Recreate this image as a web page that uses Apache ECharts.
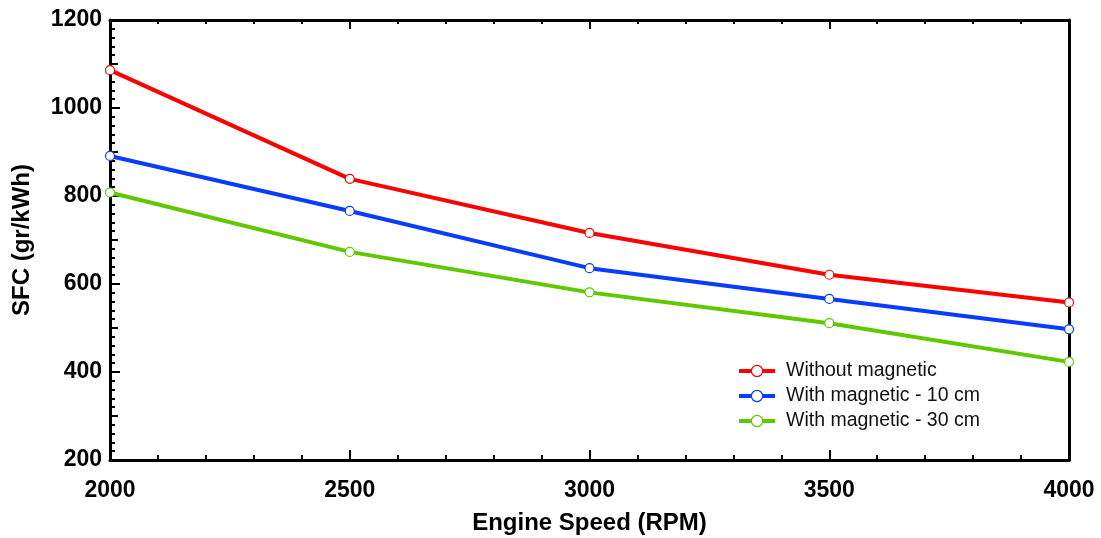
<!DOCTYPE html>
<html>
<head>
<meta charset="utf-8">
<script src="https://cdn.jsdelivr.net/npm/echarts@6/dist/echarts.min.js"></script>
<style>
  html, body { margin: 0; padding: 0; background: #fff; }
  #chart { width: 1101px; height: 538px; }
</style>
</head>
<body>
<div id="chart"></div>
<script>
// engine speed (RPM)
const rpm = [2000, 2500, 3000, 3500, 4000]
// SFC (gr/kWh)
const withoutMagnetic = [1086, 839, 716, 621, 558]
const magnetic10 = [891, 766, 636, 566, 497]
const magnetic30 = [808, 673, 581, 511, 423]

const seriesNames = ['Without magnetic', 'With magnetic - 10 cm', 'With magnetic - 30 cm']
const colors = ['#ff0000', '#0a3cff', '#5fc800']

const font = 'Liberation Sans, Arial, sans-serif'

const makeSeries = (name, values, color) => ({
  name: name,
  type: 'line',
  xAxisIndex: 0,
  yAxisIndex: 0,
  data: rpm.map((r, i) => [r, values[i]]),
  symbol: 'circle',
  symbolSize: 9,
  lineStyle: { color: color, width: 4 },
  itemStyle: { color: '#fff', borderColor: color, borderWidth: 1.2 },
  z: 3
})

const chart = echarts.init(document.getElementById('chart'))

const option = {
  animation: false,
  grid: { left: 110, right: 32, top: 20, bottom: 78, outerBoundsMode: 'none', containLabel: false },
  legend: {
    left: 737,
    top: 361,
    padding: 0,
    orient: 'vertical',
    itemWidth: 36,
    itemHeight: 14,
    itemGap: 5,
    textStyle: { fontFamily: font, fontSize: 19.5, lineHeight: 19, color: '#111', padding: [0, 0, 0, 6] },
    data: seriesNames.map((n, i) => ({
      name: n,
      itemStyle: { color: '#fff', borderColor: colors[i], borderWidth: 1.2 },
      lineStyle: { color: colors[i], width: 4 }
    }))
  },
  xAxis: [
    {
      type: 'value',
      min: 2000, max: 4000, interval: 500,
      name: 'Engine Speed (RPM)',
      nameLocation: 'middle',
      nameGap: 51,
      nameTextStyle: { fontFamily: font, fontWeight: 'bold', fontSize: 24, color: '#000' },
      axisLine: { onZero: false, lineStyle: { color: '#000', width: 3 } },
      axisTick: { inside: true, length: 10, lineStyle: { color: '#000', width: 2 } },
      minorTick: { show: true, splitNumber: 5, length: 5, lineStyle: { color: '#000', width: 2 } },
      axisLabel: { margin: 19, fontFamily: font, fontWeight: 'bold', fontSize: 23, color: '#000', formatter: v => String(v) },
      splitLine: { show: false }
    },
    {
      type: 'value',
      position: 'top',
      min: 2000, max: 4000, interval: 500,
      axisLine: { onZero: false, lineStyle: { color: '#000', width: 3 } },
      axisTick: { inside: true, length: 9, lineStyle: { color: '#000', width: 2 } },
      minorTick: { show: true, splitNumber: 5, length: 4, lineStyle: { color: '#000', width: 2 } },
      axisLabel: { show: false },
      splitLine: { show: false }
    }
  ],
  yAxis: [
    {
      type: 'value',
      min: 200, max: 1200, interval: 200,
      name: 'SFC (gr/kWh)',
      nameLocation: 'middle',
      nameGap: 76,
      nameTextStyle: { fontFamily: font, fontWeight: 'bold', fontSize: 24, color: '#000' },
      axisLine: { onZero: false, lineStyle: { color: '#000', width: 3 } },
      axisTick: { inside: true, length: 10, lineStyle: { color: '#000', width: 2 } },
      minorTick: { show: true, splitNumber: 10, length: 5, lineStyle: { color: '#000', width: 2 } },
      axisLabel: { margin: 8, fontFamily: font, fontWeight: 'bold', fontSize: 23, color: '#000', formatter: v => String(v) },
      splitLine: { show: false }
    },
    {
      // mid ticks at every 100
      type: 'value',
      position: 'left',
      min: 200, max: 1200, interval: 100,
      axisLine: { show: false },
      axisTick: { inside: true, length: 8, lineStyle: { color: '#000', width: 2 } },
      axisLabel: { show: false },
      splitLine: { show: false }
    },
    {
      type: 'value',
      position: 'right',
      min: 200, max: 1200,
      axisLine: { show: true, onZero: false, lineStyle: { color: '#000', width: 3 } },
      axisTick: { show: false },
      axisLabel: { show: false },
      splitLine: { show: false }
    }
  ],
  series: [
    makeSeries(seriesNames[0], withoutMagnetic, colors[0]),
    makeSeries(seriesNames[1], magnetic10, colors[1]),
    makeSeries(seriesNames[2], magnetic30, colors[2])
  ]
}

chart.setOption(option)
</script>
</body>
</html>
